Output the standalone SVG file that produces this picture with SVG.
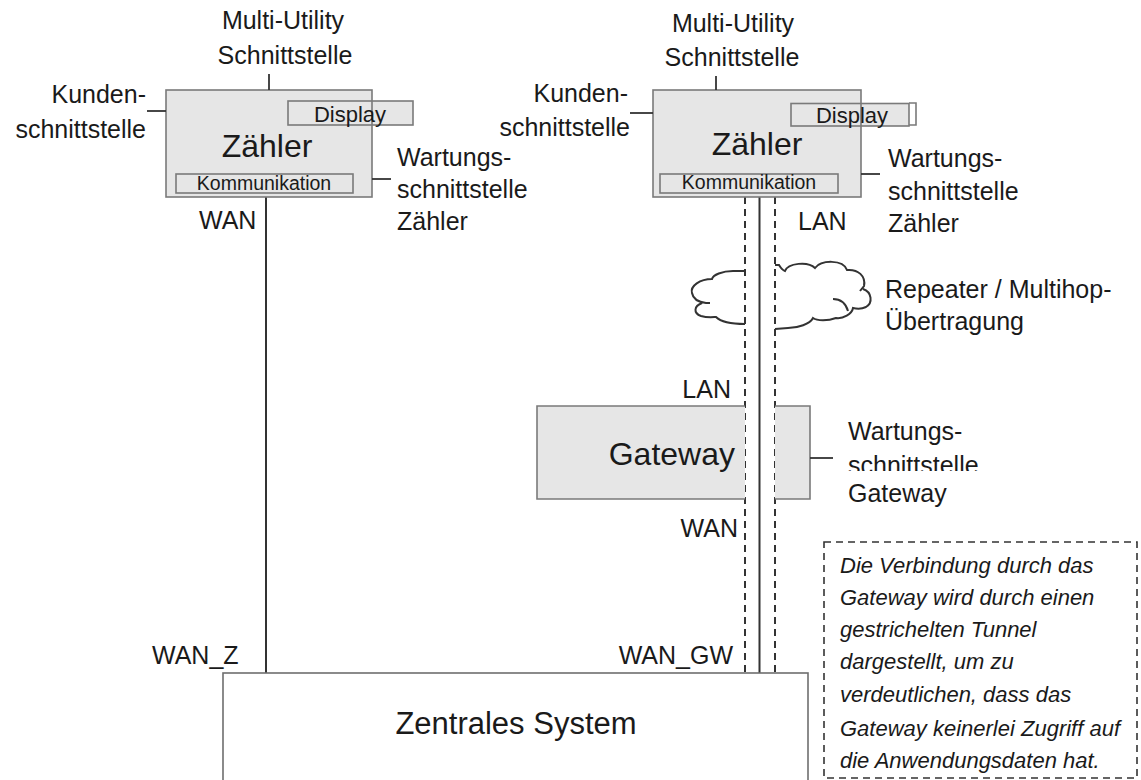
<svg xmlns="http://www.w3.org/2000/svg" width="1141" height="780" viewBox="0 0 1141 780">
<defs>
<style>
text{font-family:"Liberation Sans",Arial,sans-serif;fill:#1a1a1a}
.lbl{font-size:25px}
.big{font-size:32px}
.disp{font-size:22px}
.kom{font-size:19.5px}
.note{font-size:22px;font-style:italic}
.box{fill:#e6e6e6;stroke:none}
.edge{fill:none;stroke:#7a7a7a;stroke-width:1.6}
.sub{fill:#e6e6e6;stroke:#7a7a7a;stroke-width:1.6}
.tick{stroke:#333;stroke-width:1.8;fill:none}
.solid{stroke:#333;stroke-width:2;fill:none}
.dash{stroke:#333;stroke-width:2;fill:none;stroke-dasharray:7 5}
.cloud{stroke:#333;stroke-width:2;fill:none}
</style>
<clipPath id="gwclip"><rect x="840" y="440" width="200" height="31"/></clipPath>
</defs>
<rect width="1141" height="780" fill="#fff"/>

<g id="connectors">
<line class="solid" x1="266" y1="197" x2="266" y2="673"/>
<line class="dash" x1="745" y1="197" x2="745" y2="673"/>
<line class="solid" x1="759.5" y1="197" x2="759.5" y2="673"/>
<line class="dash" x1="775" y1="197" x2="775" y2="673"/>
<text class="lbl" x="199" y="229">WAN</text>
<text class="lbl" x="798" y="230">LAN</text>
<text class="lbl" x="731" y="398" text-anchor="end">LAN</text>
<text class="lbl" x="738" y="537" text-anchor="end">WAN</text>
<text class="lbl" x="152" y="664">WAN_Z</text>
<text class="lbl" x="733" y="664" text-anchor="end">WAN_GW</text>
</g>

<g id="meter-left">
<rect class="box" x="166" y="90" width="206" height="107"/>
<rect class="sub" x="288" y="101" width="125" height="24"/>
<rect class="edge" x="166" y="90" width="206" height="107"/>
<rect class="sub" x="176" y="174" width="177" height="19"/>
<text class="big" x="267" y="157" text-anchor="middle">Zähler</text>
<text class="disp" x="350" y="122" text-anchor="middle">Display</text>
<text class="kom" x="264" y="190" text-anchor="middle">Kommunikation</text>
<line class="tick" x1="269" y1="74" x2="269" y2="90"/>
<line class="tick" x1="147" y1="111" x2="166" y2="111"/>
<line class="tick" x1="372" y1="179" x2="391" y2="179"/>
<text class="lbl" x="283" y="29" text-anchor="middle">Multi-Utility</text>
<text class="lbl" x="285" y="64" text-anchor="middle">Schnittstelle</text>
<text class="lbl" x="146" y="103" text-anchor="end">Kunden-</text>
<text class="lbl" x="146" y="138" text-anchor="end">schnittstelle</text>
<text class="lbl" x="397" y="166">Wartungs-</text>
<text class="lbl" x="397" y="198">schnittstelle</text>
<text class="lbl" x="397" y="230">Zähler</text>
</g>

<g id="meter-right">
<rect class="box" x="653" y="90" width="208" height="107"/>
<rect class="sub" x="791" y="103.5" width="118" height="22.5"/>
<path class="edge" d="M909,103 H916 V125 H909"/>
<rect class="edge" x="653" y="90" width="208" height="107"/>
<rect class="sub" x="660" y="174" width="178" height="19"/>
<text class="big" x="757" y="155" text-anchor="middle">Zähler</text>
<text class="disp" x="852" y="123" text-anchor="middle">Display</text>
<text class="kom" x="749" y="189" text-anchor="middle">Kommunikation</text>
<line class="tick" x1="716" y1="76" x2="716" y2="90"/>
<line class="tick" x1="630" y1="113" x2="653" y2="113"/>
<line class="tick" x1="861" y1="174" x2="880" y2="174"/>
<text class="lbl" x="733" y="32" text-anchor="middle">Multi-Utility</text>
<text class="lbl" x="732" y="66" text-anchor="middle">Schnittstelle</text>
<text class="lbl" x="628" y="102" text-anchor="end">Kunden-</text>
<text class="lbl" x="630" y="136" text-anchor="end">schnittstelle</text>
<text class="lbl" x="888" y="167">Wartungs-</text>
<text class="lbl" x="888" y="200">schnittstelle</text>
<text class="lbl" x="888" y="232">Zähler</text>
</g>

<g id="repeater">
<path class="cloud" d="M745,271 H733 C722,271 713,275 712,279 C700,279 690,286 692,293 C693,299 698,302 706,303 L710,303 M702,303 C694,306 693,313 701,316 C708,318 714,317 716,317 C721,322 732,324 745,324"/>
<path class="cloud" d="M775,265 H779 Q782,270 785,271 C788,263 808,261 815,268 C821,260 843,259 847,270 C858,269 866,276 864,286 L860,291 M863,289 C872,292 873,303 866,307 C862,309 857,309 853,308 C852,314 843,319 836,318 C828,321 817,321 813,318 C810,324 798,328 788,328 L775,329 M833,299 C841,299 846,304 848,311"/>
<text class="lbl" x="885" y="298">Repeater / Multihop-</text>
<text class="lbl" x="885" y="330">Übertragung</text>
</g>

<g id="gateway">
<rect class="box" x="537" y="406" width="208" height="93"/>
<rect class="box" x="775" y="406" width="35" height="93"/>
<path class="edge" d="M745,406 H537 V499 H745"/>
<path class="edge" d="M775,406 H810 V499 H775"/>
<text x="735" y="465" text-anchor="end" style="font-size:32px">Gateway</text>
<line class="tick" x1="810" y1="458" x2="833" y2="458"/>
<text class="lbl" x="848" y="440">Wartungs-</text>
<text class="lbl" x="848" y="474" clip-path="url(#gwclip)">schnittstelle</text>
<text class="lbl" x="848" y="502">Gateway</text>
</g>

<g id="zentrales-system">
<rect x="223" y="673" width="585" height="120" fill="#fff" stroke="#6e6e6e" stroke-width="1.6"/>
<text x="516" y="734" text-anchor="middle" style="font-size:31px">Zentrales System</text>
</g>

<g id="note">
<rect x="824" y="542" width="313" height="236" fill="none" stroke="#333" stroke-width="1.6" stroke-dasharray="7 5"/>
<text class="note" x="840" y="573">Die Verbindung durch das</text>
<text class="note" x="840" y="605">Gateway wird durch einen</text>
<text class="note" x="840" y="637">gestrichelten Tunnel</text>
<text class="note" x="840" y="669">dargestellt, um zu</text>
<text class="note" x="840" y="702">verdeutlichen, dass das</text>
<text class="note" x="840" y="736">Gateway keinerlei Zugriff auf</text>
<text class="note" x="840" y="768">die Anwendungsdaten hat.</text>
</g>
</svg>
